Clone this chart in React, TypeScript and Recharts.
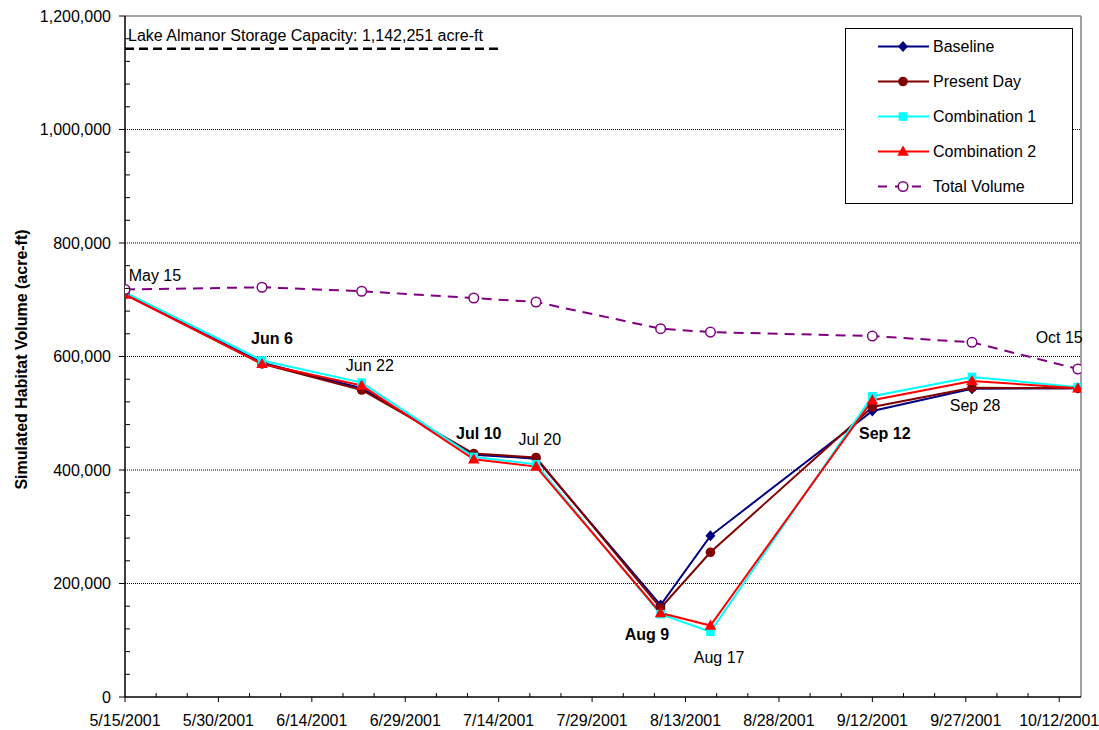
import { ComposedChart, Line, XAxis, YAxis, ReferenceLine, ReferenceDot, Legend } from 'recharts';

const sampleDates = ['5/15/2001', '6/6/2001', '6/22/2001', '7/10/2001', '7/20/2001', '8/9/2001', '8/17/2001', '9/12/2001', '9/28/2001', '10/15/2001'];
const baseline = [710000, 589000, 544000, 427000, 420000, 162000, 284000, 504000, 543000, 544000];
const presentDay = [710000, 587000, 541000, 429000, 422000, 157000, 255000, 511000, 545000, 544000];
const combination1 = [713000, 593000, 554000, 423000, 410000, 146000, 115000, 530000, 564000, 546000];
const combination2 = [709000, 587000, 549000, 419000, 406000, 148000, 126000, 523000, 557000, 544000];
const totalVolume = [718000, 722000, 715000, 703000, 696000, 649000, 643000, 636000, 625000, 578000];

const xTickLabels = ['5/15/2001', '5/30/2001', '6/14/2001', '6/29/2001', '7/14/2001', '7/29/2001', '8/13/2001', '8/28/2001', '9/12/2001', '9/27/2001', '10/12/2001'];

const storageCapacity = 1142251;
const storageText = 'Lake Almanor Storage Capacity: 1,142,251 acre-ft';

// date callouts next to the points (text centre, in chart units)
const calloutText = ['May 15', 'Jun 6', 'Jun 22', 'Jul 10', 'Jul 20', 'Aug 9', 'Aug 17', 'Sep 12', 'Sep 28', 'Oct 15'];
const calloutBold = [false, true, false, true, false, true, false, true, false, false];
const calloutDay = [4.8, 23.6, 39.3, 56.8, 66.6, 83.8, 95.4, 122.0, 136.5, 150.0];
const calloutValue = [743000, 631000, 585000, 465000, 453000, 111000, 70000, 465000, 513000, 634000];

const FONT = '"Liberation Sans", Arial, sans-serif';
const DAY_MS = 86400000;
const toUtc = (s: string) => {
  const [m, d, y] = s.split('/').map(Number);
  return Date.UTC(y, m - 1, d);
};
const start = toUtc(sampleDates[0]);
const toDay = (s: string) => Math.round((toUtc(s) - start) / DAY_MS);

const data = sampleDates.map((d, i) => ({
  day: toDay(d),
  baseline: baseline[i],
  presentDay: presentDay[i],
  combination1: combination1[i],
  combination2: combination2[i],
  totalVolume: totalVolume[i],
}));

const majorDays = xTickLabels.map(toDay);
const xTicks: number[] = [];
for (let d = 0; d <= majorDays[majorDays.length - 1]; d += 5) xTicks.push(d);
const yTicks: number[] = [];
for (let v = 0; v <= 1200000; v += 40000) yTicks.push(v);
const gridValues = [200000, 400000, 600000, 800000, 1000000];

type Shape = 'diamond' | 'circle' | 'square' | 'triangle' | 'ring';

const series: { key: string; name: string; color: string; shape: Shape; dash?: string }[] = [
  { key: 'baseline', name: 'Baseline', color: '#000080', shape: 'diamond' },
  { key: 'presentDay', name: 'Present Day', color: '#800000', shape: 'circle' },
  { key: 'combination1', name: 'Combination 1', color: '#00FFFF', shape: 'square' },
  { key: 'combination2', name: 'Combination 2', color: '#FF0000', shape: 'triangle' },
  { key: 'totalVolume', name: 'Total Volume', color: '#800080', shape: 'ring', dash: '10 7' },
];

function Marker({ cx, cy, shape, color }: { cx: number; cy: number; shape: Shape; color: string }) {
  if (shape === 'diamond')
    return <polygon points={`${cx},${cy - 5.5} ${cx + 5},${cy} ${cx},${cy + 5.5} ${cx - 5},${cy}`} fill={color} />;
  if (shape === 'circle') return <circle cx={cx} cy={cy} r={4.8} fill={color} />;
  if (shape === 'square') return <rect x={cx - 4.3} y={cy - 4.3} width={8.6} height={8.6} fill={color} />;
  if (shape === 'triangle')
    return <polygon points={`${cx},${cy - 6} ${cx + 5.8},${cy + 4.2} ${cx - 5.8},${cy + 4.2}`} fill={color} />;
  return <circle cx={cx} cy={cy} r={4.8} fill="#fff" stroke={color} strokeWidth={1.5} />;
}

const makeDot = (shape: Shape, color: string) => (p: any) => (
  <Marker key={`dot-${p.index}`} cx={p.cx} cy={p.cy} shape={shape} color={color} />
);

function XTick(props: any) {
  const { x, y, payload } = props;
  const idx = majorDays.indexOf(payload.value);
  if (idx < 0) return <line x1={x} x2={x} y1={y - 4} y2={y} stroke="#000" />;
  return (
    <g>
      <line x1={x} x2={x} y1={y} y2={y + 5} stroke="#000" />
      <text x={x} y={y + 23} textAnchor="middle" dominantBaseline="central" fontFamily={FONT} fontSize={16} fill="#000">
        {xTickLabels[idx]}
      </text>
    </g>
  );
}

function YTick(props: any) {
  const { x, y, payload } = props;
  const v = payload.value as number;
  if (v % 200000 !== 0) return <line x1={x} x2={x + 5} y1={y} y2={y} stroke="#000" />;
  return (
    <g>
      <line x1={x - 6} x2={x} y1={y} y2={y} stroke="#000" />
      <text x={x - 14} y={y} textAnchor="end" dominantBaseline="central" fontFamily={FONT} fontSize={16} fill="#000">
        {v.toLocaleString('en-US')}
      </text>
    </g>
  );
}

function LegendBox() {
  return (
    <svg width={228} height={176} style={{ display: 'block' }}>
      <rect x={0.5} y={0.5} width={227} height={175} fill="#fff" stroke="#000" />
      {series.map((s, i) => {
        const cy = 18.5 + i * 35;
        return (
          <g key={s.key}>
            <line x1={33} x2={84} y1={cy} y2={cy} stroke={s.color} strokeWidth={2} strokeDasharray={s.dash ? '9 8' : undefined} />
            <Marker cx={58} cy={cy} shape={s.shape} color={s.color} />
            <text x={88} y={cy} dominantBaseline="central" fontFamily={FONT} fontSize={16} fill="#000">
              {s.name}
            </text>
          </g>
        );
      })}
    </svg>
  );
}

function AxisTitle(props: any) {
  const vb = props.viewBox;
  const cy = vb.y + vb.height / 2 + 3;
  return (
    <text
      x={21}
      y={cy}
      transform={`rotate(-90, 21, ${cy})`}
      textAnchor="middle"
      dominantBaseline="central"
      fontFamily={FONT}
      fontSize={16}
      fontWeight="bold"
      fill="#000"
    >
      Simulated Habitat Volume (acre-ft)
    </text>
  );
}

export default function App() {
  return (
    <div style={{ position: 'absolute', left: 0, top: 0, width: 1099, height: 730, background: '#fff', fontFamily: FONT }}>
      <ComposedChart width={1099} height={730} data={data} margin={{ top: 16, right: 18, left: 0, bottom: 0 }}>
        <XAxis
          type="number"
          dataKey="day"
          domain={[0, 153.5]}
          ticks={xTicks}
          interval={0}
          allowDataOverflow
          tick={<XTick />}
          tickLine={false}
          tickSize={0}
          tickMargin={0}
          height={33}
          axisLine={{ stroke: '#000', strokeWidth: 1.5 }}
        />
        <YAxis
          type="number"
          domain={[0, 1200000]}
          ticks={yTicks}
          interval={0}
          allowDataOverflow
          tick={<YTick />}
          tickLine={false}
          tickSize={0}
          tickMargin={0}
          width={125}
          axisLine={{ stroke: '#000', strokeWidth: 1.5 }}
          label={AxisTitle}
        />
        {gridValues.map((v) => (
          <ReferenceLine key={v} y={v} stroke="#000" strokeDasharray="1 1" />
        ))}
        <ReferenceLine y={1200000} stroke="#808080" strokeWidth={1.5} />
        <ReferenceLine x={153.5} stroke="#808080" strokeWidth={1.5} />
        <ReferenceLine
          segment={[
            { x: 0, y: storageCapacity },
            { x: 60.5, y: storageCapacity },
          ]}
          stroke="#000"
          strokeWidth={2.5}
          strokeDasharray="9 5"
          label={(p: any) => (
            <text x={p.viewBox.x + 3} y={p.viewBox.y - 8} fontFamily={FONT} fontSize={16} fill="#000">
              {storageText}
            </text>
          )}
        />
        {series.map((s) => (
          <Line
            key={s.key}
            type="linear"
            dataKey={s.key}
            name={s.name}
            stroke={s.color}
            strokeWidth={2}
            strokeDasharray={s.dash}
            dot={makeDot(s.shape, s.color)}
            activeDot={false}
            isAnimationActive={false}
          />
        ))}
        {calloutText.map((t, i) => (
          <ReferenceDot
            key={t}
            x={calloutDay[i]}
            y={calloutValue[i]}
            r={0}
            shape={(p: any) => (
              <text
                x={p.cx}
                y={p.cy}
                textAnchor="middle"
                dominantBaseline="central"
                fontFamily={FONT}
                fontSize={16}
                fontWeight={calloutBold[i] ? 'bold' : 'normal'}
                fill="#000"
              >
                {t}
              </text>
            )}
          />
        ))}
        <Legend
          layout="horizontal"
          verticalAlign="middle"
          align="center"
          content={() => <LegendBox />}
          wrapperStyle={{ left: 845, top: 28, right: 'auto', bottom: 'auto', width: 228, height: 176 }}
        />
      </ComposedChart>
    </div>
  );
}
